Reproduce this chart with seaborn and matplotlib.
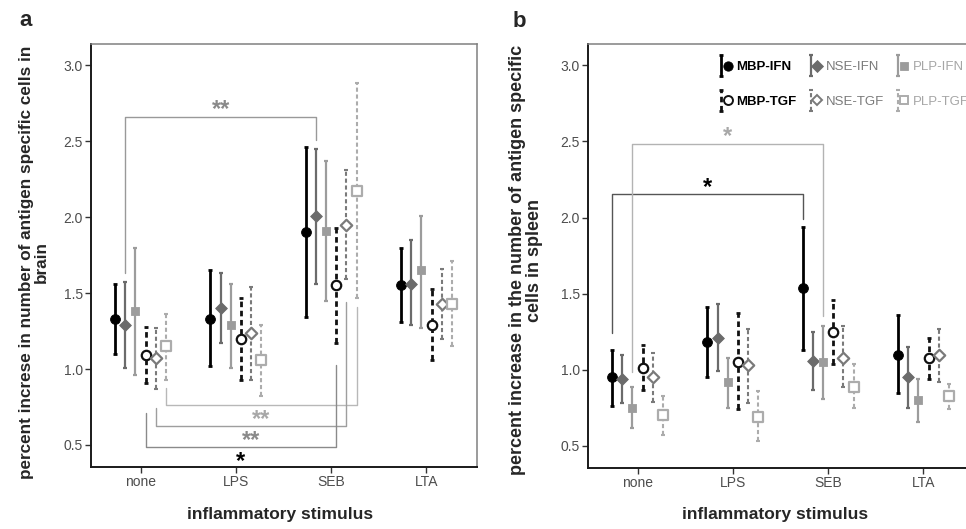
import numpy as np
import pandas as pd
import matplotlib
matplotlib.use("Agg")
import matplotlib.pyplot as plt
import seaborn as sns
from matplotlib.lines import Line2D
from matplotlib.container import ErrorbarContainer
from matplotlib.legend_handler import HandlerErrorbar, HandlerTuple

# ---------------- data ----------------
categories = ["none", "LPS", "SEB", "LTA"]
series = ["MBP-IFN", "NSE-IFN", "PLP-IFN", "MBP-TGF", "NSE-TGF", "PLP-TGF"]

brain_mean = {
    "MBP-IFN": [1.33, 1.33, 1.90, 1.55],
    "NSE-IFN": [1.29, 1.40, 2.01, 1.56],
    "PLP-IFN": [1.38, 1.29, 1.91, 1.65],
    "MBP-TGF": [1.09, 1.20, 1.55, 1.29],
    "NSE-TGF": [1.07, 1.24, 1.95, 1.43],
    "PLP-TGF": [1.15, 1.06, 2.17, 1.43],
}
brain_low = {
    "MBP-IFN": [1.10, 1.02, 1.34, 1.31],
    "NSE-IFN": [1.01, 1.17, 1.56, 1.29],
    "PLP-IFN": [0.96, 1.01, 1.45, 1.27],
    "MBP-TGF": [0.91, 0.93, 1.17, 1.06],
    "NSE-TGF": [0.87, 0.93, 1.59, 1.20],
    "PLP-TGF": [0.93, 0.82, 1.47, 1.15],
}
brain_high = {
    "MBP-IFN": [1.56, 1.65, 2.46, 1.80],
    "NSE-IFN": [1.57, 1.63, 2.45, 1.85],
    "PLP-IFN": [1.80, 1.56, 2.37, 2.01],
    "MBP-TGF": [1.28, 1.47, 1.93, 1.53],
    "NSE-TGF": [1.27, 1.54, 2.31, 1.66],
    "PLP-TGF": [1.36, 1.29, 2.88, 1.71],
}

spleen_mean = {
    "MBP-IFN": [0.95, 1.18, 1.54, 1.10],
    "NSE-IFN": [0.94, 1.21, 1.06, 0.95],
    "PLP-IFN": [0.75, 0.92, 1.05, 0.80],
    "MBP-TGF": [1.01, 1.05, 1.25, 1.08],
    "NSE-TGF": [0.95, 1.03, 1.08, 1.10],
    "PLP-TGF": [0.70, 0.69, 0.89, 0.83],
}
spleen_low = {
    "MBP-IFN": [0.76, 0.95, 1.13, 0.85],
    "NSE-IFN": [0.78, 0.99, 0.87, 0.75],
    "PLP-IFN": [0.62, 0.75, 0.81, 0.66],
    "MBP-TGF": [0.87, 0.74, 1.04, 0.94],
    "NSE-TGF": [0.79, 0.78, 0.89, 0.92],
    "PLP-TGF": [0.57, 0.53, 0.75, 0.74],
}
spleen_high = {
    "MBP-IFN": [1.13, 1.41, 1.94, 1.36],
    "NSE-IFN": [1.10, 1.43, 1.25, 1.15],
    "PLP-IFN": [0.89, 1.08, 1.29, 0.94],
    "MBP-TGF": [1.16, 1.37, 1.46, 1.21],
    "NSE-TGF": [1.11, 1.27, 1.29, 1.27],
    "PLP-TGF": [0.83, 0.86, 1.04, 0.91],
}

# significance brackets: (series, from, to, low end left, low end right, bar level, label)
brain_sig = [
    ("NSE-IFN", "none", "SEB", 1.63, 2.51, 2.66, "**"),
    ("PLP-TGF", "none", "SEB", 0.873, 1.41, 0.763, "**"),
    ("NSE-TGF", "none", "SEB", 0.741, 1.443, 0.627, "**"),
    ("MBP-TGF", "none", "SEB", 0.708, 1.026, 0.489, "*"),
]
spleen_sig = [
    ("MBP-IFN", "none", "SEB", 1.245, 1.988, 2.152, "*"),
    ("PLP-IFN", "none", "SEB", 0.983, 1.354, 2.485, "*"),
]

yticks = [0.5, 1.0, 1.5, 2.0, 2.5, 3.0]

# ---------------- styles ----------------
sns.set_style("white")
plt.rcParams["font.family"] = ["Liberation Sans", "DejaVu Sans"]

style = {
    "MBP-IFN": dict(c="#000000", m="o", fill=True, dash=False, lw=2.0, s=50),
    "NSE-IFN": dict(c="#6b6b6b", m="D", fill=True, dash=False, lw=1.6, s=36),
    "PLP-IFN": dict(c="#9c9c9c", m="s", fill=True, dash=False, lw=1.6, s=40),
    "MBP-TGF": dict(c="#111111", m="o", fill=False, dash=True, lw=2.0, s=46),
    "NSE-TGF": dict(c="#7a7a7a", m="D", fill=False, dash=True, lw=1.5, s=34),
    "PLP-TGF": dict(c="#acacac", m="s", fill=False, dash=True, lw=1.5, s=42),
}
text_colors = {"MBP-IFN": "#000000", "NSE-IFN": "#7a7a7a", "PLP-IFN": "#a6a6a6",
               "MBP-TGF": "#000000", "NSE-TGF": "#7a7a7a", "PLP-TGF": "#a6a6a6"}
sig_line_colors = {"MBP-IFN": "#555555", "NSE-IFN": "#999999", "PLP-IFN": "#b3b3b3",
                   "MBP-TGF": "#8a8a8a", "NSE-TGF": "#9e9e9e", "PLP-TGF": "#b8b8b8"}
sig_text_colors = {"MBP-IFN": "#000000", "NSE-IFN": "#8a8a8a", "PLP-IFN": "#a8a8a8",
                   "MBP-TGF": "#000000", "NSE-TGF": "#8a8a8a", "PLP-TGF": "#a8a8a8"}
offsets = {s: (i - 2.5) * 0.107 for i, s in enumerate(series)}
DASH = (0, (2.0, 1.3))

W, H = 966, 529
fig = plt.figure(figsize=(W / 100, H / 100), dpi=100)
ax_a = fig.add_axes([91 / W, 1 - 467 / H, (477 - 91) / W, (467 - 44) / H])
ax_b = fig.add_axes([588 / W, 1 - 468 / H, (974 - 588) / W, (468 - 44) / H])


def draw_panel(ax, mean, low, high):
    rows = []
    for s in series:
        for i, c in enumerate(categories):
            rows.append(dict(series=s, stim=c, mean=mean[s][i], low=low[s][i], high=high[s][i]))
    df = pd.DataFrame(rows)
    df["x"] = df["stim"].map({c: i for i, c in enumerate(categories)}) + df["series"].map(offsets)
    containers = {}
    for s in series:
        st = style[s]
        sub = df[df["series"] == s]
        cont = ax.errorbar(sub["x"], sub["mean"],
                           yerr=[sub["mean"] - sub["low"], sub["high"] - sub["mean"]],
                           fmt="none", ecolor=st["c"], elinewidth=st["lw"],
                           capsize=1.6, capthick=st["lw"], zorder=2)
        if st["dash"]:
            cont[2][0].set_linestyle(DASH)
        containers[s] = cont
        face = st["c"] if st["fill"] else "white"
        sns.scatterplot(data=sub, x="x", y="mean", marker=st["m"], s=st["s"],
                        color=face, edgecolor=st["c"],
                        linewidth=0.6 if st["fill"] else 1.6,
                        ax=ax, zorder=3, legend=False)
    return containers


def draw_sig(ax, sig, fs):
    cidx = {c: i for i, c in enumerate(categories)}
    for s, c0, c1, y0, y1, bar, lab in sig:
        x0 = cidx[c0] + offsets[s]
        x1 = cidx[c1] + offsets[s]
        ax.plot([x0, x0, x1, x1], [y0, bar, bar, y1], color=sig_line_colors[s],
                lw=1.0, clip_on=False, zorder=1)
        xm = (x0 + x1) / 2
        above = bar > max(y0, y1)
        if above:
            ax.annotate(lab, xy=(xm, bar), xytext=(0, 0.5), textcoords="offset points",
                        ha="center", va="baseline", fontsize=fs, fontweight="bold",
                        color=sig_text_colors[s], annotation_clip=False)
        else:
            ax.annotate(lab, xy=(xm, bar), xytext=(0, -2.5), textcoords="offset points",
                        ha="center", va="top", fontsize=fs, fontweight="bold",
                        color=sig_text_colors[s], annotation_clip=False)


def style_axes(ax):
    ax.set_xlim(-0.52, 3.53)
    ax.set_ylim(0.355, 3.14)
    ax.set_xticks(range(len(categories)))
    ax.set_xticklabels(categories)
    ax.set_yticks(yticks)
    ax.set_yticklabels([f"{v:.1f}" for v in yticks])
    ax.tick_params(axis="both", which="both", direction="out", length=4, width=1.0,
                   color="#333333", labelsize=10, labelcolor="#4d4d4d", pad=2,
                   left=True, bottom=True)
    for side in ["left", "bottom"]:
        ax.spines[side].set_color("#1a1a1a")
        ax.spines[side].set_linewidth(1.4)
    for side in ["top", "right"]:
        ax.spines[side].set_color("#808080")
        ax.spines[side].set_linewidth(1.1)
    ax.grid(False)


cont_a = draw_panel(ax_a, brain_mean, brain_low, brain_high)
cont_b = draw_panel(ax_b, spleen_mean, spleen_low, spleen_high)
style_axes(ax_a)
style_axes(ax_b)
draw_sig(ax_a, brain_sig, 17)
draw_sig(ax_b, spleen_sig, 17)

ax_a.set_xlabel("inflammatory stimulus", fontsize=12.5, fontweight="bold")
ax_b.set_xlabel("inflammatory stimulus", fontsize=12.5, fontweight="bold")
ax_a.xaxis.set_label_coords((280 - 91) / 386, (467 - 514) / 423)
ax_b.xaxis.set_label_coords((775 - 588) / 386, (468 - 514) / 424)
for ax in (ax_a, ax_b):
    ax.xaxis.label.set_va("center")

ax_a.set_ylabel("percent increse in number of antigen specific cells in\nbrain",
                fontsize=12.3, fontweight="bold", linespacing=0.95)
ax_b.set_ylabel("percent increase in the number of antigen specific\ncells in spleen",
                fontsize=13, fontweight="bold", linespacing=0.95)
ax_a.yaxis.set_label_coords((34 - 91) / 386, (467 - 262) / 423)
ax_b.yaxis.set_label_coords((526 - 588) / 386, (468 - 260) / 424)
for ax in (ax_a, ax_b):
    ax.yaxis.label.set_va("center")

fig.text(26 / W, 1 - 26 / H, "a", fontsize=16, fontweight="bold", ha="center", va="baseline")
fig.text(519 / W, 1 - 27 / H, "b", fontsize=16, fontweight="bold", ha="center", va="baseline")

# legend
handles = []
for s in series:
    st = style[s]
    mk = Line2D([], [], linestyle="none", marker=st["m"],
                markersize=np.sqrt(st["s"]) * 0.95,
                markerfacecolor=st["c"] if st["fill"] else "white",
                markeredgecolor=st["c"], markeredgewidth=0.6 if st["fill"] else 1.4)
    handles.append((cont_b[s], mk))
order = [0, 3, 1, 4, 2, 5]
leg = ax_b.legend([handles[i] for i in order], [series[i] for i in order],
                  ncol=3, frameon=False, fontsize=9.5,
                  handler_map={ErrorbarContainer: HandlerErrorbar(yerr_size=0.8, numpoints=1),
                               tuple: HandlerTuple(ndivide=None)},
                  handlelength=1.0, handletextpad=0.4, columnspacing=0.8,
                  labelspacing=1.7, borderpad=0, borderaxespad=0,
                  loc="upper left", bbox_to_anchor=(718 / W, 1 - 61 / H),
                  bbox_transform=fig.transFigure)
for t in leg.get_texts():
    s = t.get_text()
    t.set_color(text_colors[s])
    if s.startswith("MBP"):
        t.set_fontweight("bold")

fig.savefig("out.png", dpi=100)
